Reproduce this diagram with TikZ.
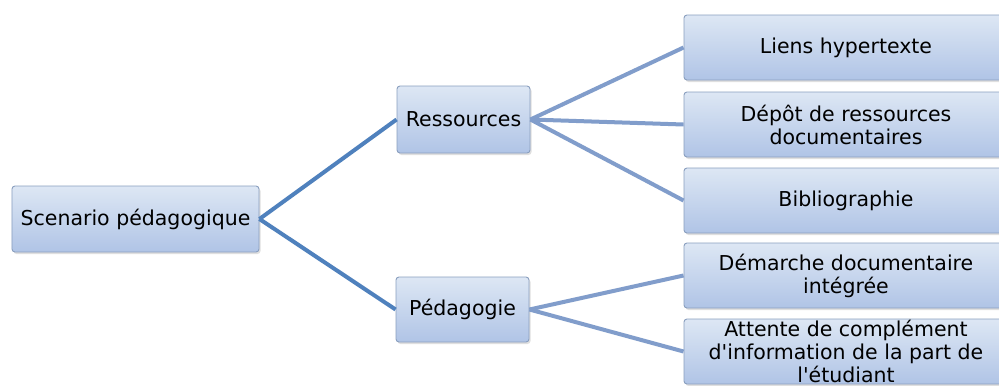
\documentclass[tikz,border=0pt]{standalone}
\usepackage{fontspec}
\setmainfont{DejaVu Sans}
\usetikzlibrary{shadows}
\definecolor{topc}{HTML}{DDE7F4}
\definecolor{botc}{HTML}{B0C4E6}
\definecolor{edgec}{HTML}{8A9FBF}
\definecolor{darkline}{HTML}{4F81BD}
\definecolor{lightline}{HTML}{819DCB}
\tikzset{
  box/.style={draw=edgec, line width=0.9bp, rounded corners=3bp, top color=topc, bottom color=botc,
    drop shadow={opacity=0.25, shadow xshift=1.5bp, shadow yshift=-2bp},
    inner sep=0pt, align=center, text=black,
    font=\fontsize{20.5bp}{23bp}\selectfont},
  mainlink/.style={draw=darkline, line width=4bp},
  sublink/.style={draw=lightline, line width=4bp},
}
\begin{document}
\begin{tikzpicture}[x=1bp, y=-1bp]
\path[use as bounding box, clip] (0,0) rectangle (999,385);
\fill[white] (0,0) rectangle (999,385);
\node[box, minimum width=247bp, minimum height=66bp] (root) at (135.5,219) {Scenario pédagogique};
\node[box, minimum width=133bp, minimum height=67bp] (res) at (463.5,119.5) {Ressources};
\node[box, minimum width=133bp, minimum height=65bp] (ped) at (462.5,309.5) {Pédagogie};
\node[box, minimum width=324bp, minimum height=65bp] (l1) at (846,47.5) {Liens hypertexte};
\node[box, minimum width=324bp, minimum height=65bp] (l2) at (846,124.5) {Dépôt de ressources\\documentaires};
\node[box, minimum width=324bp, minimum height=65bp] (l3) at (846,200.5) {Bibliographie};
\node[box, minimum width=324bp, minimum height=65bp] (l4) at (846,275.5) {Démarche documentaire\\intégrée};
\node[box, minimum width=324bp, minimum height=65bp] (l5) at (846,351.5) {Attente de complément\\d\textquotesingle information de la part de\\l\textquotesingle étudiant};
\draw[mainlink] (root.east) -- (res.west);
\draw[mainlink] (root.east) -- (ped.west);
\draw[sublink] (res.east) -- (l1.west);
\draw[sublink] (res.east) -- (l2.west);
\draw[sublink] (res.east) -- (l3.west);
\draw[sublink] (ped.east) -- (l4.west);
\draw[sublink] (ped.east) -- (l5.west);
\end{tikzpicture}
\end{document}
